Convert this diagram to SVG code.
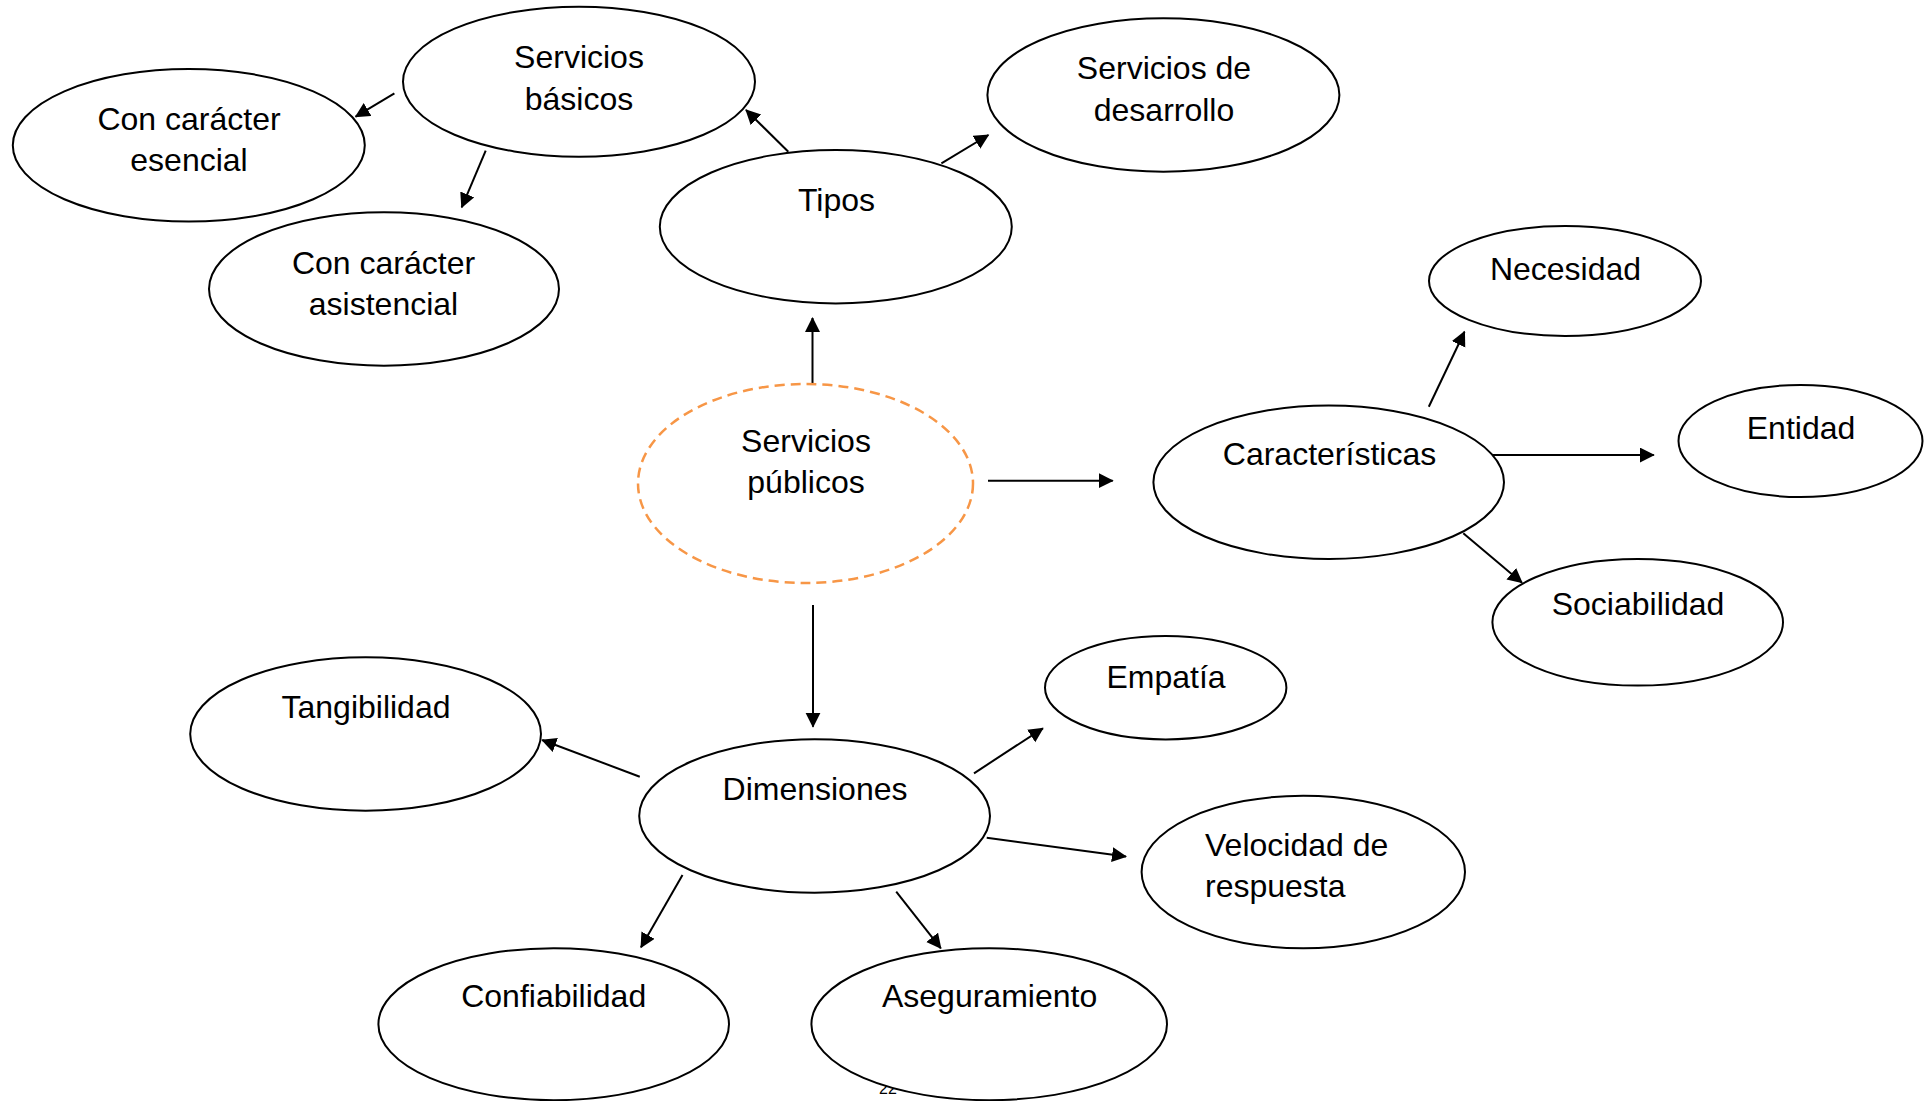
<svg xmlns="http://www.w3.org/2000/svg" width="1928" height="1101" viewBox="0 0 1928 1101">
  <style>
    .node { fill: #ffffff; stroke: #000000; stroke-width: 2; }
    .core { fill: #ffffff; stroke: #F79646; stroke-width: 2.5; stroke-dasharray: 10 6; }
    .label { font-family: "Liberation Sans", Arial, sans-serif; font-size: 32px; fill: #000000; text-anchor: middle; }
    .label.left { text-anchor: start; }
    .pageno { font-family: "Liberation Sans", Arial, sans-serif; font-size: 16px; fill: #000000; }
    .edge { stroke: #000000; stroke-width: 2; fill: none; marker-end: url(#arrow); }
  </style>
  <defs>
    <marker id="arrow" markerUnits="userSpaceOnUse" markerWidth="16" markerHeight="16" refX="14" refY="7.5" orient="auto">
      <path d="M0,0 L15,7.5 L0,15 Z" fill="#000000"/>
    </marker>
  </defs>

  <rect width="1928" height="1101" fill="#ffffff"/>

  <!-- page number, mostly covered by the last ellipse -->
  <text class="pageno" x="879" y="1094">22</text>

  <g id="connectors">
    <line class="edge" x1="812.5" y1="384" x2="812.5" y2="318"/>
    <line class="edge" x1="788.3" y1="151.7" x2="746" y2="110"/>
    <line class="edge" x1="941.4" y1="163.3" x2="988.4" y2="135"/>
    <line class="edge" x1="394.4" y1="93.3" x2="355.6" y2="116.7"/>
    <line class="edge" x1="485.7" y1="150.7" x2="461.7" y2="207.3"/>
    <line class="edge" x1="988" y1="480.7" x2="1112.7" y2="480.7"/>
    <line class="edge" x1="1428.8" y1="406.7" x2="1464.5" y2="331.7"/>
    <line class="edge" x1="1491.6" y1="455" x2="1653.8" y2="455"/>
    <line class="edge" x1="1463.3" y1="533.3" x2="1522" y2="582.7"/>
    <line class="edge" x1="813" y1="605" x2="813" y2="726.7"/>
    <line class="edge" x1="639.8" y1="776.7" x2="542.2" y2="740"/>
    <line class="edge" x1="974" y1="773.3" x2="1042.9" y2="728.3"/>
    <line class="edge" x1="986.7" y1="837.7" x2="1126" y2="856.5"/>
    <line class="edge" x1="682.5" y1="875" x2="641" y2="947.3"/>
    <line class="edge" x1="896.2" y1="891.7" x2="940.8" y2="948.3"/>
  </g>

  <g id="servicios-basicos">
    <ellipse class="node" cx="579" cy="81.7" rx="176" ry="75"/>
    <text class="label" x="579" y="68">Servicios</text>
    <text class="label" x="579" y="109.5">básicos</text>
  </g>

  <g id="caracter-esencial">
    <ellipse class="node" cx="188.8" cy="145.3" rx="176" ry="76.3"/>
    <text class="label" x="189" y="130">Con carácter</text>
    <text class="label" x="189" y="171">esencial</text>
  </g>

  <g id="caracter-asistencial">
    <ellipse class="node" cx="384" cy="289" rx="175" ry="76.7"/>
    <text class="label" x="383.5" y="273.5">Con carácter</text>
    <text class="label" x="383.5" y="315">asistencial</text>
  </g>

  <g id="tipos">
    <ellipse class="node" cx="835.8" cy="226.7" rx="176" ry="76.7"/>
    <text class="label" x="836.5" y="211">Tipos</text>
  </g>

  <g id="servicios-desarrollo">
    <ellipse class="node" cx="1163.4" cy="95" rx="176" ry="76.7"/>
    <text class="label" x="1164" y="79">Servicios de</text>
    <text class="label" x="1164" y="120.5">desarrollo</text>
  </g>

  <g id="necesidad">
    <ellipse class="node" cx="1565" cy="281" rx="136" ry="55"/>
    <text class="label" x="1565.5" y="279.5">Necesidad</text>
  </g>

  <g id="entidad">
    <ellipse class="node" cx="1800.5" cy="441" rx="122" ry="56"/>
    <text class="label" x="1801" y="438.5">Entidad</text>
  </g>

  <g id="caracteristicas">
    <ellipse class="node" cx="1328.7" cy="482.3" rx="175.3" ry="76.7"/>
    <text class="label" x="1329.5" y="465">Características</text>
  </g>

  <g id="sociabilidad">
    <ellipse class="node" cx="1637.7" cy="622.3" rx="145.3" ry="63.3"/>
    <text class="label" x="1638" y="615">Sociabilidad</text>
  </g>

  <g id="servicios-publicos">
    <ellipse class="core" cx="805.5" cy="483.5" rx="167.5" ry="99.5"/>
    <text class="label" x="806" y="451.5">Servicios</text>
    <text class="label" x="806" y="493">públicos</text>
  </g>

  <g id="empatia">
    <ellipse class="node" cx="1165.7" cy="687.7" rx="120.7" ry="51.7"/>
    <text class="label" x="1166" y="688">Empatía</text>
  </g>

  <g id="tangibilidad">
    <ellipse class="node" cx="365.6" cy="734" rx="175.4" ry="76.7"/>
    <text class="label" x="366" y="717.5">Tangibilidad</text>
  </g>

  <g id="dimensiones">
    <ellipse class="node" cx="814.6" cy="816" rx="175.4" ry="76.7"/>
    <text class="label" x="815" y="799.5">Dimensiones</text>
  </g>

  <g id="velocidad-respuesta">
    <ellipse class="node" cx="1303.3" cy="872" rx="161.7" ry="76.3"/>
    <text class="label left" x="1205" y="855.7">Velocidad de</text>
    <text class="label left" x="1205" y="897.3">respuesta</text>
  </g>

  <g id="confiabilidad">
    <ellipse class="node" cx="553.7" cy="1024.2" rx="175.3" ry="76"/>
    <text class="label" x="553.7" y="1007.3">Confiabilidad</text>
  </g>

  <g id="aseguramiento">
    <ellipse class="node" cx="989.2" cy="1024.2" rx="177.8" ry="76"/>
    <text class="label" x="989.6" y="1007.3">Aseguramiento</text>
  </g>
</svg>
